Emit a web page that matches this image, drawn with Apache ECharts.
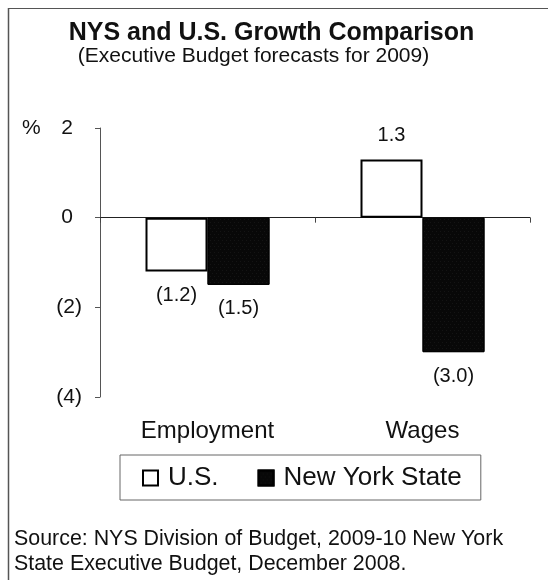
<!DOCTYPE html>
<html>
<head>
<meta charset="utf-8">
<script src="https://cdn.jsdelivr.net/npm/echarts@6/dist/echarts.min.js"></script>
<style>
html,body{margin:0;padding:0;background:#fff;}
#chart{width:553px;height:580px;}
</style>
</head>
<body>
<div id="chart"></div>
<script>
// ---- data ----
const categories = ['Employment', 'Wages'];
const seriesNames = ['U.S.', 'New York State'];
const usValues = [-1.2, 1.3];
const nysValues = [-1.5, -3.0];
const yMin = -4;
const yMax = 2;
const yInterval = 2;
const titleText = 'NYS and U.S. Growth Comparison';
const subtitleText = '(Executive Budget forecasts for 2009)';
const sourceLines = ['Source: NYS Division of Budget, 2009-10 New York', 'State Executive Budget, December 2008.'];

const FONT = '"Liberation Sans", Arial, Helvetica, sans-serif';

function fmtVal(v) {
  return v < 0 ? '(' + Math.abs(v).toFixed(1) + ')' : v.toFixed(1);
}
function toItems(arr) {
  return arr.map(v => ({ value: v, label: { position: v < 0 ? 'bottom' : 'top' } }));
}

const chart = echarts.init(document.getElementById('chart'), null, { renderer: 'canvas' });

const option = {
  backgroundColor: '#fff',
  animation: false,
  textStyle: { fontFamily: FONT },
  grid: { left: 100, right: 23, top: 128, bottom: 183, containLabel: false },
  legend: {
    data: seriesNames,
    left: 120,
    top: 455,
    orient: 'horizontal',
    icon: 'rect',
    itemWidth: 15,
    itemHeight: 15,
    itemGap: 39,
    padding: [10, 19, 9, 22],
    borderColor: '#666',
    borderWidth: 1,
    textStyle: { fontFamily: FONT, fontSize: 26, color: '#111', padding: [0, 0, 0, 5] }
  },
  xAxis: [
    {
      type: 'category',
      data: categories,
      position: 'bottom',
      axisLine: { show: true, onZero: true, lineStyle: { color: '#222', width: 1 } },
      axisTick: { show: true, length: 5, lineStyle: { color: '#444' } },
      axisLabel: { show: false },
      splitLine: { show: false }
    },
    {
      type: 'category',
      data: categories,
      position: 'bottom',
      axisLine: { show: false, onZero: false },
      axisTick: { show: false },
      axisLabel: { show: true, margin: 22, fontSize: 24, color: '#111', fontFamily: FONT },
      splitLine: { show: false }
    }
  ],
  yAxis: {
    type: 'value',
    min: yMin,
    max: yMax,
    interval: yInterval,
    axisLine: { show: true, lineStyle: { color: '#555', width: 1 } },
    axisTick: { show: true, inside: false, length: 5, lineStyle: { color: '#555' } },
    splitLine: { show: false },
    axisLabel: {
      margin: 18,
      fontSize: 21,
      color: '#111',
      fontFamily: FONT,
      formatter: function (v) {
        return v < 0 ? '(' + Math.abs(v) + ')' : '{n|' + v + '}';
      },
      rich: { n: { fontSize: 21, fontFamily: FONT, color: '#111', padding: [0, 9, 0, 0] } }
    }
  },
  series: [
    {
      name: seriesNames[0],
      type: 'bar',
      xAxisIndex: 0,
      data: toItems(usValues),
      barWidth: 62,
      barGap: '0%',
      itemStyle: { color: '#ffffff', borderColor: '#000', borderWidth: 2 },
      label: {
        show: true, distance: 14, fontSize: 20, color: '#111', fontFamily: FONT,
        formatter: p => fmtVal(p.value)
      }
    },
    {
      name: seriesNames[1],
      type: 'bar',
      xAxisIndex: 0,
      data: toItems(nysValues),
      barWidth: 62,
      barGap: '0%',
      itemStyle: {
        color: '#080808', borderColor: '#000', borderWidth: 1,
        decal: {
          symbol: 'rect', symbolSize: 0.5, color: 'rgba(110,110,110,0.5)',
          dashArrayX: [[1, 3], [0, 2, 1, 1]], dashArrayY: [1, 2], rotation: 0
        }
      },
      label: {
        show: true, distance: 14, fontSize: 20, color: '#111', fontFamily: FONT,
        formatter: p => fmtVal(p.value)
      }
    }
  ],
  graphic: [
    { type: 'line', shape: { x1: 8, y1: 8.5, x2: 548, y2: 8.5 }, style: { stroke: '#555', lineWidth: 1 } },
    { type: 'line', shape: { x1: 8.5, y1: 8, x2: 8.5, y2: 580 }, style: { stroke: '#555', lineWidth: 1.5 } },
    { type: 'text', x: 271.5, y: 33, style: { text: titleText, font: 'bold 25px ' + FONT, fill: '#111', align: 'center', verticalAlign: 'middle' } },
    { type: 'text', x: 253.5, y: 56, style: { text: subtitleText, font: '21px ' + FONT, fill: '#111', align: 'center', verticalAlign: 'middle' } },
    { type: 'text', x: 22, y: 128, style: { text: '%', font: '21px ' + FONT, fill: '#111', align: 'left', verticalAlign: 'middle' } },
    { type: 'text', x: 14, y: 539, style: { text: sourceLines[0], font: '21.4px ' + FONT, fill: '#111', align: 'left', verticalAlign: 'middle' } },
    { type: 'text', x: 14, y: 564, style: { text: sourceLines[1], font: '21.4px ' + FONT, fill: '#111', align: 'left', verticalAlign: 'middle' } }
  ]
};
chart.setOption(option);
</script>
</body>
</html>
